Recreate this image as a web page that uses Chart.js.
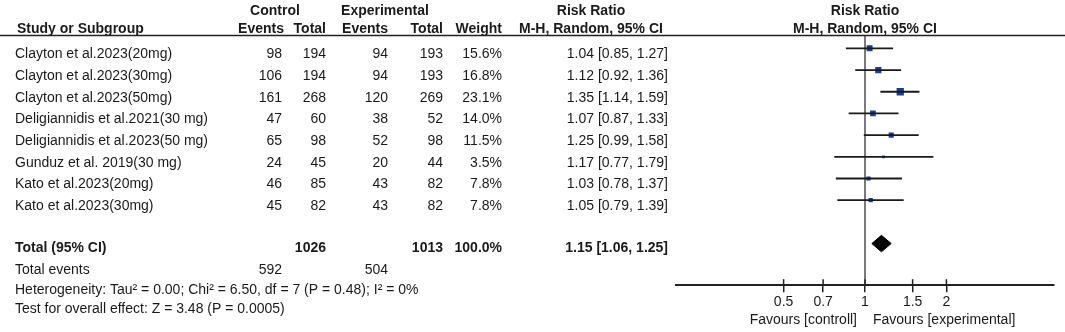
<!DOCTYPE html>
<html>
<head>
<meta charset="utf-8">
<script src="https://cdn.jsdelivr.net/npm/chart.js@4.4.1/dist/chart.umd.min.js"></script>
<style>
  html, body { margin: 0; padding: 0; background: #fff; }
  #wrap { width: 1065px; height: 332px; position: relative; }
</style>
</head>
<body>
<div id="wrap"><canvas id="forest"></canvas></div>
<script>
const studies = [
  "Clayton et al.2023(20mg)",
  "Clayton et al.2023(30mg)",
  "Clayton et al.2023(50mg)",
  "Deligiannidis et al.2021(30 mg)",
  "Deligiannidis et al.2023(50 mg)",
  "Gunduz et al. 2019(30 mg)",
  "Kato et al.2023(20mg)",
  "Kato et al.2023(30mg)",
];
const ctrlEvents = [98, 106, 161, 47, 65, 24, 46, 45];
const ctrlTotal  = [194, 194, 268, 60, 98, 45, 85, 82];
const expEvents  = [94, 94, 120, 38, 52, 20, 43, 43];
const expTotal   = [193, 193, 269, 52, 98, 44, 82, 82];
const weights    = [15.6, 16.8, 23.1, 14.0, 11.5, 3.5, 7.8, 7.8];
const riskRatio  = [1.04, 1.12, 1.35, 1.07, 1.25, 1.17, 1.03, 1.05];
const ciLow      = [0.85, 0.92, 1.14, 0.87, 0.99, 0.77, 0.78, 0.79];
const ciHigh     = [1.27, 1.36, 1.59, 1.33, 1.58, 1.79, 1.37, 1.39];

const pooledRR = [1.15, 1.06, 1.25];       // estimate, low, high
const totalN = [1026, 1013];                // control, experimental
const totalEvents = [592, 504];
const totalWeight = 100.0;
const xTicks = [0.5, 0.7, 1, 1.5, 2];

const heterogeneity = "Heterogeneity: Tau\u00b2 = 0.00; Chi\u00b2 = 6.50, df = 7 (P = 0.48); I\u00b2 = 0%";
const overallEffect = "Test for overall effect: Z = 3.48 (P = 0.0005)";

const FONT = '"Liberation Sans", Arial, sans-serif';
const INK = "#1a1a1a";
const NAVY = "#1b3d8f";
const TOTAL_ROW = studies.length + 1;   // blank row before the total
const DIAMOND_H = 0.38;                 // half height of the diamond, in rows

// CI whiskers, one segment per study, broken by nulls
const ciData = [];
studies.forEach((s, i) => {
  ciData.push({ x: ciLow[i], y: i }, { x: ciHigh[i], y: i }, { x: null, y: null });
});

const pointData = riskRatio.map((v, i) => ({ x: v, y: i }));

const diamondData = [
  { x: pooledRR[1], y: TOTAL_ROW },
  { x: pooledRR[0], y: TOTAL_ROW - DIAMOND_H },
  { x: pooledRR[2], y: TOTAL_ROW },
  { x: pooledRR[0], y: TOTAL_ROW + DIAMOND_H },
  { x: pooledRR[1], y: TOTAL_ROW },
];

function rrText(v, lo, hi) {
  return v.toFixed(2) + " [" + lo.toFixed(2) + ", " + hi.toFixed(2) + "]";
}

function txt(ctx, s, x, y, align, bold) {
  ctx.font = (bold ? "bold " : "") + "14px " + FONT;
  ctx.textAlign = align;
  ctx.fillText(s, x, y);
}

const tablePlugin = {
  id: "forestTable",
  beforeDatasetsDraw(chart) {
    const { ctx, chartArea, scales: { x } } = chart;
    const x1 = x.getPixelForValue(1);
    ctx.save();
    ctx.strokeStyle = "#333";
    ctx.lineWidth = 1.3;
    ctx.beginPath();
    ctx.moveTo(x1, 35);
    ctx.lineTo(x1, chartArea.bottom);
    ctx.stroke();
    // upper half of the tick marks
    ctx.strokeStyle = "#222";
    ctx.lineWidth = 1.5;
    xTicks.forEach(t => {
      const px = x.getPixelForValue(t);
      ctx.beginPath();
      ctx.moveTo(px, chartArea.bottom - 6);
      ctx.lineTo(px, chartArea.bottom);
      ctx.stroke();
    });
    ctx.restore();
  },
  afterDraw(chart) {
    const { ctx, scales: { x, y } } = chart;
    ctx.save();
    ctx.fillStyle = INK;
    ctx.textBaseline = "alphabetic";

    // header
    txt(ctx, "Control", 275, 15, "center", true);
    txt(ctx, "Experimental", 385, 15, "center", true);
    txt(ctx, "Risk Ratio", 591, 15, "center", true);
    txt(ctx, "Risk Ratio", 865, 15, "center", true);
    txt(ctx, "Study or Subgroup", 17, 33, "left", true);
    txt(ctx, "Events", 284, 33, "right", true);
    txt(ctx, "Total", 326, 33, "right", true);
    txt(ctx, "Events", 388, 33, "right", true);
    txt(ctx, "Total", 443, 33, "right", true);
    txt(ctx, "Weight", 502, 33, "right", true);
    txt(ctx, "M-H, Random, 95% CI", 591, 33, "center", true);
    txt(ctx, "M-H, Random, 95% CI", 865, 33, "center", true);

    ctx.strokeStyle = "#222";
    ctx.lineWidth = 1.5;
    ctx.beginPath();
    ctx.moveTo(0, 35.5);
    ctx.lineTo(chart.width, 35.5);
    ctx.stroke();

    // study rows
    studies.forEach((s, i) => {
      const by = y.getPixelForValue(i) + 10;
      txt(ctx, s, 15, by, "left");
      txt(ctx, String(ctrlEvents[i]), 282, by, "right");
      txt(ctx, String(ctrlTotal[i]), 326, by, "right");
      txt(ctx, String(expEvents[i]), 388, by, "right");
      txt(ctx, String(expTotal[i]), 443, by, "right");
      txt(ctx, weights[i].toFixed(1) + "%", 502, by, "right");
      txt(ctx, rrText(riskRatio[i], ciLow[i], ciHigh[i]), 668, by, "right");
    });

    // total row
    const ty = y.getPixelForValue(TOTAL_ROW) + 8;
    txt(ctx, "Total (95% CI)", 15, ty, "left", true);
    txt(ctx, String(totalN[0]), 326, ty, "right", true);
    txt(ctx, String(totalN[1]), 443, ty, "right", true);
    txt(ctx, totalWeight.toFixed(1) + "%", 502, ty, "right", true);
    txt(ctx, rrText(pooledRR[0], pooledRR[1], pooledRR[2]), 668, ty, "right", true);

    txt(ctx, "Total events", 15, 274, "left");
    txt(ctx, String(totalEvents[0]), 282, 274, "right");
    txt(ctx, String(totalEvents[1]), 388, 274, "right");
    txt(ctx, heterogeneity, 15, 294, "left");
    txt(ctx, overallEffect, 15, 313, "left");

    // favours labels
    const x1 = x.getPixelForValue(1);
    txt(ctx, "Favours [controll]", x1 - 8, 324, "right");
    txt(ctx, "Favours [experimental]", x1 + 8, 324, "left");
    ctx.restore();
  }
};

new Chart(document.getElementById("forest"), {
  type: "scatter",
  data: {
    datasets: [
      {
        data: ciData,
        showLine: true,
        spanGaps: false,
        borderColor: "#1a1a1a",
        borderWidth: 1.8,
        pointRadius: 0,
      },
      {
        data: pointData,
        pointStyle: "rect",
        pointRadius: weights.map(w => 1.07 * Math.sqrt(w)),
        backgroundColor: NAVY,
        borderWidth: 0,
      },
      {
        data: diamondData,
        showLine: true,
        fill: "shape",
        tension: 0,
        backgroundColor: "#000",
        borderColor: "#000",
        borderWidth: 1,
        pointRadius: 0,
      },
    ]
  },
  options: {
    responsive: true,
    maintainAspectRatio: false,
    animation: false,
    events: [],
    layout: { padding: { left: 676, right: 11, top: 36, bottom: 19 } },
    plugins: {
      legend: { display: false },
      tooltip: { enabled: false },
    },
    scales: {
      x: {
        type: "logarithmic",
        min: 0.2,
        max: 5,
        afterBuildTicks: scale => { scale.ticks = xTicks.map(v => ({ value: v })); },
        ticks: {
          autoSkip: false,
          maxRotation: 0,
          padding: 2,
          color: INK,
          font: { family: FONT, size: 14 },
          callback: v => String(v),
        },
        grid: {
          drawOnChartArea: false,
          tickLength: 7,
          color: "#222",
          lineWidth: 1.5,
        },
        border: { display: true, color: "#222", width: 2 },
      },
      y: {
        type: "linear",
        reverse: true,
        min: -0.57,
        max: 10.92,
        display: false,
      }
    }
  },
  plugins: [tablePlugin],
});
</script>
</body>
</html>
